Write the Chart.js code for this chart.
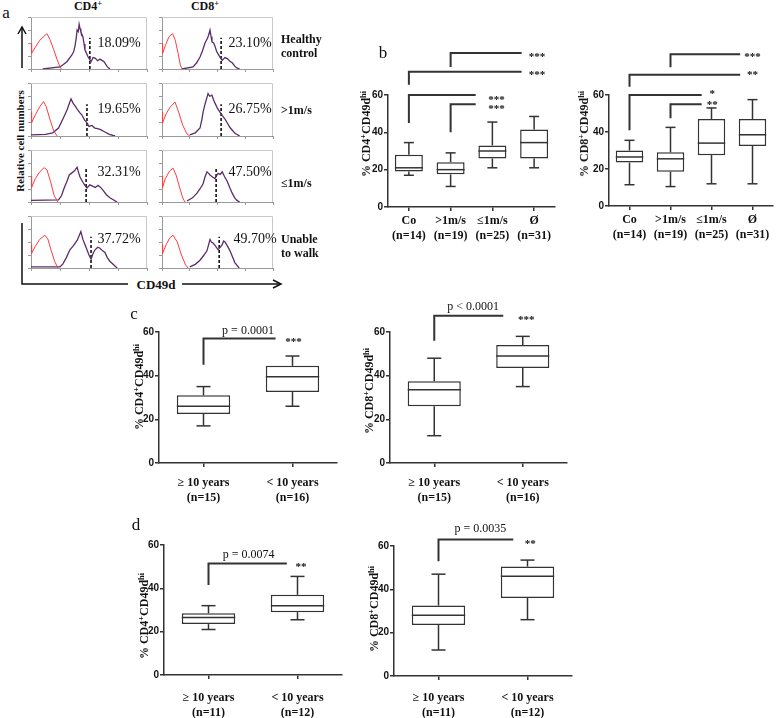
<!DOCTYPE html>
<html>
<head>
<meta charset="utf-8">
<script src="https://cdn.jsdelivr.net/npm/chart.js@4.4.1/dist/chart.umd.min.js"></script>
<style>
  body { margin: 0; width: 776px; height: 718px; position: relative; overflow: hidden; background: #fff; font-family: "Liberation Serif", "DejaVu Serif", serif; }
  canvas { position: absolute; }
  .t { position: absolute; white-space: nowrap; color: #111; transform: translate(-50%, -50%); line-height: 1; }
  .l { position: absolute; white-space: nowrap; color: #111; transform: translate(0, -50%); line-height: 1; }
  .r { transform: translate(-50%, -50%) rotate(-90deg); }
  sup { font-size: 0.7em; vertical-align: 0.45em; line-height: 0; }
</style>
</head>
<body>
<svg width="776" height="718" style="position:absolute;left:0;top:0">
  <g stroke="#111" stroke-width="1.5" fill="none">
    <line x1="22" y1="68" x2="22" y2="28"/>
    <polyline points="18,34 22,27 26,34"/>
    <polyline points="22,223 22,284 128,284"/>
    <line x1="182" y1="284" x2="280" y2="284"/>
    <polyline points="273,280 281,284 273,288"/>
  </g>
</svg>
<script>
// ---------- panel a : CD49d histograms (x in log decades, y relative counts) ----------
const rowNames = ["Healthy control", ">1m/s", "\u22641m/s", "Unable to walk"];

const cd4Red = [
  [[0,50],[0.02,30],[0.15,42],[0.3,55],[0.45,63],[0.55,68],[0.65,57],[0.78,38],[0.9,18],[1.0,4],[1.05,0]],
  [[0,45],[0.02,25],[0.15,40],[0.3,55],[0.43,65],[0.52,56],[0.65,32],[0.78,10],[0.9,0]],
  [[0,50],[0.02,28],[0.15,45],[0.3,58],[0.45,66],[0.55,62],[0.68,38],[0.8,12],[0.93,0]],
  [[0,45],[0.02,28],[0.15,42],[0.3,55],[0.48,63],[0.58,56],[0.7,33],[0.82,12],[0.93,0]]
];
const cd8Red = [
  [[0,50],[0.02,30],[0.12,45],[0.25,62],[0.38,68],[0.48,55],[0.58,30],[0.66,8],[0.72,0]],
  [[0,45],[0.02,25],[0.15,42],[0.3,55],[0.47,64],[0.6,45],[0.75,20],[0.9,4],[1.0,0]],
  [[0,50],[0.02,28],[0.12,45],[0.28,60],[0.4,65],[0.52,50],[0.65,25],[0.76,6],[0.83,0]],
  [[0,45],[0.02,28],[0.15,45],[0.28,58],[0.4,63],[0.55,50],[0.7,25],[0.85,6],[0.94,0]]
];
const cd4Purple = [
  [[0.4,0],[1.0,4],[1.24,14],[1.41,27],[1.47,33],[1.52,45],[1.56,60],[1.59,75],[1.63,72],[1.66,86],[1.69,78],[1.72,71],[1.79,62],[1.83,48],[1.86,37],[1.97,23],[2.03,18],[2.07,14],[2.14,22],[2.21,21],[2.3,16],[2.38,19],[2.52,14],[2.62,5],[2.72,0]],
  [[0,2],[0.5,3],[0.75,6],[0.95,15],[1.1,32],[1.25,50],[1.3,58],[1.38,70],[1.45,62],[1.52,57],[1.6,50],[1.68,44],[1.75,40],[1.85,30],[1.93,25],[2.0,18],[2.1,20],[2.2,15],[2.3,14],[2.4,12],[2.5,9],[2.7,3],[2.9,0]],
  [[0,3],[0.95,4],[1.05,12],[1.15,28],[1.24,40],[1.32,52],[1.41,56],[1.5,60],[1.59,67],[1.65,55],[1.69,48],[1.79,38],[1.86,32],[1.93,27],[2.03,33],[2.14,30],[2.22,28],[2.31,32],[2.4,28],[2.48,23],[2.6,14],[2.72,8],[2.97,0]],
  [[0,2],[1.0,2],[1.1,8],[1.22,20],[1.34,35],[1.45,42],[1.59,53],[1.66,62],[1.72,70],[1.79,55],[1.86,45],[1.93,35],[2.0,25],[2.07,17],[2.14,28],[2.21,35],[2.3,40],[2.38,38],[2.47,33],[2.55,30],[2.63,20],[2.72,13],[2.97,0]]
];
const cd8Purple = [
  [[0.72,0],[1.12,4],[1.25,12],[1.37,23],[1.46,35],[1.55,50],[1.63,58],[1.68,65],[1.73,75],[1.77,62],[1.8,52],[1.86,50],[1.91,44],[1.96,35],[2.02,29],[2.1,22],[2.17,17],[2.27,22],[2.35,20],[2.45,15],[2.53,12],[2.63,5],[2.7,2],[2.8,0]],
  [[1.0,2],[1.2,6],[1.37,15],[1.44,32],[1.48,45],[1.55,60],[1.62,73],[1.66,80],[1.72,75],[1.8,77],[1.86,68],[1.91,62],[2.0,52],[2.09,45],[2.18,38],[2.27,32],[2.36,24],[2.45,16],[2.55,10],[2.63,5],[2.8,0]],
  [[0.9,2],[1.1,8],[1.26,17],[1.38,26],[1.48,35],[1.55,48],[1.62,58],[1.68,55],[1.73,52],[1.82,48],[1.91,45],[1.96,50],[2.02,55],[2.1,53],[2.17,58],[2.26,48],[2.35,40],[2.44,28],[2.53,17],[2.62,8],[2.7,3],[2.8,0]],
  [[1.0,2],[1.2,7],[1.37,15],[1.5,24],[1.62,33],[1.68,45],[1.73,55],[1.78,50],[1.84,48],[1.93,42],[2.02,35],[2.1,40],[2.17,45],[2.22,52],[2.27,50],[2.36,42],[2.45,33],[2.55,20],[2.63,10],[2.78,0]]
];
const cd4Gate = [2.03, 1.93, 1.9, 2.07];
const cd8Gate = [2.13, 2.13, 1.95, 2.06];
const gateHeight = [60, 60, 65, 60];
const cd4Pct = ["18.09%", "19.65%", "32.31%", "37.72%"];
const cd8Pct = ["23.10%", "26.75%", "47.50%", "49.70%"];

// ---------- panel b : walking speed groups ----------
const bLabels = [["Co", "(n=14)"], [">1m/s", "(n=19)"], ["\u22641m/s", "(n=25)"], ["\u00d8", "(n=31)"]];
const bCD4Min = [17, 11, 21, 21];
const bCD4Q1  = [19, 17.5, 26, 26];
const bCD4Med = [21, 20, 30, 34.5];
const bCD4Q3  = [28, 24, 33, 41.5];
const bCD4Max = [34.5, 29, 45.5, 48.5];
const bCD8Min = [11.5, 10.5, 12, 12];
const bCD8Q1  = [23.5, 18.5, 27.5, 32.5];
const bCD8Med = [26.5, 25.5, 34, 38.5];
const bCD8Q3  = [30, 29, 47, 47];
const bCD8Max = [35.5, 42.5, 53, 57.5];

// ---------- panel c / d : disease duration ----------
const cLabels = [["\u2265 10 years", "(n=15)"], ["< 10 years", "(n=16)"]];
const cCD4Min = [17, 26],   cCD4Q1 = [22.5, 32.5], cCD4Med = [26, 39.5], cCD4Q3 = [31, 44.5], cCD4Max = [35, 49];
const cCD8Min = [12.5, 35], cCD8Q1 = [26, 43.5],   cCD8Med = [33.5, 49], cCD8Q3 = [37.5, 54], cCD8Max = [48, 58];
const dLabels = [["\u2265 10 years", "(n=11)"], ["< 10 years", "(n=12)"]];
const dCD4Min = [21, 25.5], dCD4Q1 = [23.5, 29],   dCD4Med = [26.5, 32], dCD4Q3 = [28.5, 37], dCD4Max = [32, 45.5];
const dCD8Min = [12, 26],   dCD8Q1 = [23.5, 36],   dCD8Med = [28, 46],   dCD8Q3 = [32.5, 50.5], dCD8Max = [47, 53.5];

const ink = "#333";
const serif = '"Liberation Serif", "DejaVu Serif", serif';
const sans = '"Liberation Sans", Arial, sans-serif';

function text(html, x, y, style, cls) {
  const d = document.createElement("div");
  d.className = cls || "t";
  d.innerHTML = html;
  d.style.left = x + "px";
  d.style.top = y + "px";
  Object.assign(d.style, style || {});
  document.body.appendChild(d);
  return d;
}

function makeCanvas(x, y, w, h) {
  const c = document.createElement("canvas");
  c.width = w; c.height = h;
  c.style.left = x + "px"; c.style.top = y + "px";
  c.style.width = w + "px"; c.style.height = h + "px";
  document.body.appendChild(c);
  return c;
}

// light frame around each histogram
const framePlugin = {
  id: "frame",
  beforeDatasetsDraw(chart) {
    const { ctx, chartArea: a } = chart;
    ctx.save();
    ctx.strokeStyle = "#c8c8c8";
    ctx.lineWidth = 1;
    ctx.beginPath();
    ctx.moveTo(a.left, a.top + 0.5);
    ctx.lineTo(a.right - 0.5, a.top + 0.5);
    ctx.lineTo(a.right - 0.5, a.bottom);
    ctx.stroke();
    ctx.restore();
  }
};

function histogram(left, top, w, h, red, purple, gate, gateTop) {
  const pad = 4;
  const canvas = makeCanvas(left - pad, top - 1, w + pad + 1, h + pad + 1);
  const pts = arr => arr.map(p => ({ x: p[0], y: p[1] }));
  new Chart(canvas, {
    type: "line",
    data: {
      datasets: [
        { data: pts(red), borderColor: "#ff3b3b", borderWidth: 1, pointRadius: 0, tension: 0 },
        { data: pts(purple), borderColor: "#5a2c6c", borderWidth: 1.3, pointRadius: 0, tension: 0 },
        { data: [{ x: gate, y: 0 }, { x: gate, y: gateTop }], borderColor: "#000", borderWidth: 1.5, borderDash: [3, 2], pointRadius: 0 }
      ]
    },
    options: {
      responsive: false, animation: false,
      layout: { padding: { top: 1, right: 1, left: 0, bottom: 0 }, autoPadding: false },
      plugins: { legend: { display: false }, tooltip: { enabled: false } },
      scales: {
        x: {
          type: "linear", min: 0, max: 4,
          ticks: { display: false, stepSize: 1 },
          grid: { drawOnChartArea: false, tickLength: 3, color: "#999" },
          border: { color: "#999" },
          afterFit: s => { s.height = pad; }
        },
        y: {
          min: 0, max: 100,
          ticks: { display: false, stepSize: 25 },
          grid: { drawOnChartArea: false, tickLength: 3, color: "#999" },
          border: { color: "#999" },
          afterFit: s => { s.width = pad; }
        }
      }
    },
    plugins: [framePlugin]
  });
}

const rowTops = [17, 83, 150, 216];
const rowBottoms = [69, 136, 202, 268];
rowTops.forEach((t, i) => {
  const h = rowBottoms[i] - t;
  histogram(31, t, 116, h, cd4Red[i], cd4Purple[i], cd4Gate[i], gateHeight[i]);
  histogram(162, t, 111, h, cd8Red[i], cd8Purple[i], cd8Gate[i], gateHeight[i]);
});

// ---------- box plot helper ----------
const boxPlugin = {
  id: "boxExtras",
  afterDatasetsDraw(chart, args, o) {
    const { ctx, scales: { x, y } } = chart;
    const meta = chart.getDatasetMeta(0);
    ctx.save();
    ctx.strokeStyle = ink;
    ctx.lineWidth = 1.5;
    o.min.forEach((lo, i) => {
      const cx = x.getPixelForValue(i);
      const half = meta.data[i].width / 2;
      const seg = (x0, y0, x1, y1) => { ctx.beginPath(); ctx.moveTo(x0, y0); ctx.lineTo(x1, y1); ctx.stroke(); };
      seg(cx - half, y.getPixelForValue(o.med[i]), cx + half, y.getPixelForValue(o.med[i]));
      seg(cx, y.getPixelForValue(o.q3[i]), cx, y.getPixelForValue(o.max[i]));
      seg(cx, y.getPixelForValue(o.q1[i]), cx, y.getPixelForValue(lo));
      seg(cx - o.cap, y.getPixelForValue(o.max[i]), cx + o.cap, y.getPixelForValue(o.max[i]));
      seg(cx - o.cap, y.getPixelForValue(lo), cx + o.cap, y.getPixelForValue(lo));
    });
    // significance brackets
    ctx.lineWidth = 2;
    o.brackets.forEach(b => {
      ctx.beginPath();
      ctx.moveTo(x.getPixelForValue(b.x0), y.getPixelForValue(b.yLow));
      ctx.lineTo(x.getPixelForValue(b.x0), y.getPixelForValue(b.yTop));
      ctx.lineTo(x.getPixelForValue(b.x1), y.getPixelForValue(b.yTop));
      ctx.stroke();
    });
    ctx.fillStyle = "#111";
    ctx.textAlign = "center";
    o.notes.forEach(n => {
      const star = /^\*+$/.test(n.text);
      ctx.font = star ? "bold 11px " + serif : "12px " + serif;
      ctx.textBaseline = star ? "alphabetic" : "middle";
      ctx.fillText(n.text, x.getPixelForValue(n.x), y.getPixelForValue(n.y) + (star ? 5 : 0));
    });
    ctx.restore();
  }
};

function boxChart(g, labels, mins, q1s, meds, q3s, maxs, brackets, notes) {
  const canvas = makeCanvas(g.x, g.y, g.w, g.h);
  new Chart(canvas, {
    type: "bar",
    data: {
      labels: labels,
      datasets: [{
        data: q1s.map((q, i) => [q, q3s[i]]),
        backgroundColor: "#fff",
        borderColor: ink,
        borderWidth: 1.5,
        borderSkipped: false,
        barPercentage: 1,
        categoryPercentage: g.boxFrac
      }]
    },
    options: {
      responsive: false, animation: false,
      layout: {
        autoPadding: false,
        padding: { left: g.l - g.x - g.yW, right: g.x + g.w - g.r, top: g.t - g.y, bottom: 0 }
      },
      plugins: {
        legend: { display: false }, tooltip: { enabled: false },
        boxExtras: { min: mins, q1: q1s, med: meds, q3: q3s, max: maxs, cap: g.cap, brackets: brackets, notes: notes }
      },
      scales: {
        x: {
          ticks: { color: "#111", font: { family: serif, size: 12, weight: "bold", lineHeight: g.lh || 1.3 }, padding: g.labPad, maxRotation: 0 },
          grid: { offset: false, drawOnChartArea: false, tickLength: 4, color: ink, lineWidth: 1.5 },
          border: { color: ink, width: 1.5 },
          afterFit: s => { s.height = g.y + g.h - g.b; }
        },
        y: {
          min: 0, max: 60,
          ticks: { stepSize: 20, color: "#111", font: { family: sans, size: 10, weight: "bold" }, padding: 1 },
          grid: { drawOnChartArea: false, tickLength: 4, color: ink, lineWidth: 1.5 },
          border: { color: ink, width: 1.5 },
          afterFit: s => { s.width = g.yW; }
        }
      }
    },
    plugins: [boxPlugin]
  });
}

boxChart({ x: 355, y: 40, w: 205, h: 210, l: 388, r: 555, t: 95, b: 207, yW: 26, boxFrac: 0.67, cap: 5, labPad: 2 },
  bLabels, bCD4Min, bCD4Q1, bCD4Med, bCD4Q3, bCD4Max,
  [{ x0: 0, x1: 1.6, yLow: 45, yTop: 60 }, { x0: 1, x1: 1.6, yLow: 40, yTop: 55 },
   { x0: 0, x1: 2.7, yLow: 65.5, yTop: 72.5 }, { x0: 1, x1: 2.7, yLow: 75, yTop: 82.5 }],
  [{ text: "***", x: 2.1, y: 58.4 }, { text: "***", x: 2.1, y: 53.6 },
   { text: "***", x: 3.07, y: 71.8 }, { text: "***", x: 3.07, y: 81.4 }]);

boxChart({ x: 588, y: 40, w: 188, h: 210, l: 609, r: 773, t: 95, b: 206, yW: 18, boxFrac: 0.67, cap: 5, labPad: 2 },
  bLabels, bCD8Min, bCD8Q1, bCD8Med, bCD8Q3, bCD8Max,
  [{ x0: 0, x1: 1.76, yLow: 41, yTop: 60 }, { x0: 1, x1: 1.76, yLow: 47.5, yTop: 55 },
   { x0: 0, x1: 2.7, yLow: 64.5, yTop: 71 }, { x0: 1, x1: 2.7, yLow: 75, yTop: 82 }],
  [{ text: "*", x: 2.02, y: 61.4 }, { text: "**", x: 2.02, y: 55.7 },
   { text: "**", x: 3.0, y: 71.9 }, { text: "***", x: 3.0, y: 81.6 }]);

boxChart({ x: 140, y: 295, w: 205, h: 215, l: 159, r: 337, t: 332, b: 463, yW: 18, boxFrac: 0.6, cap: 7, labPad: 8 },
  cLabels, cCD4Min, cCD4Q1, cCD4Med, cCD4Q3, cCD4Max,
  [{ x0: 0, x1: 0.81, yLow: 45, yTop: 57 }],
  [{ text: "p = 0.0001", x: 0.5, y: 60.5 }, { text: "***", x: 1.01, y: 56.3 }]);

boxChart({ x: 370, y: 295, w: 205, h: 215, l: 390, r: 567, t: 332, b: 463, yW: 18, boxFrac: 0.6, cap: 7, labPad: 8 },
  cLabels, cCD8Min, cCD8Q1, cCD8Med, cCD8Q3, cCD8Max,
  [{ x0: 0, x1: 0.78, yLow: 56, yTop: 67.5 }],
  [{ text: "p < 0.0001", x: 0.44, y: 71.5 }, { text: "***", x: 1.04, y: 66.4 }]);

boxChart({ x: 145, y: 515, w: 205, h: 203, l: 164, r: 342, t: 545, b: 675, yW: 18, boxFrac: 0.6, cap: 7, labPad: 11, lh: 1.25 },
  dLabels, dCD4Min, dCD4Q1, dCD4Med, dCD4Q3, dCD4Max,
  [{ x0: 0, x1: 0.88, yLow: 41.5, yTop: 51.5 }],
  [{ text: "p = 0.0074", x: 0.45, y: 55.4 }, { text: "**", x: 1.04, y: 50.8 }]);

boxChart({ x: 375, y: 515, w: 205, h: 203, l: 394, r: 572, t: 546, b: 676, yW: 18, boxFrac: 0.6, cap: 7, labPad: 10, lh: 1.25 },
  dLabels, dCD8Min, dCD8Q1, dCD8Med, dCD8Q3, dCD8Max,
  [{ x0: 0, x1: 0.84, yLow: 53, yTop: 63 }],
  [{ text: "p = 0.0035", x: 0.47, y: 67.8 }, { text: "**", x: 1.03, y: 61.8 }]);

// ---------- text for panel a ----------
text("a", 6, 12, { fontSize: "17px" });
text("CD4<sup>+</sup>", 88, 6, { fontSize: "12px", fontWeight: "bold" });
text("CD8<sup>+</sup>", 205, 6, { fontSize: "12px", fontWeight: "bold" });
const pctY = [43, 109, 172, 239];
cd4Pct.forEach((p, i) => text(p, 119, pctY[i], { fontSize: "14px" }));
cd8Pct.forEach((p, i) => text(p, i === 3 ? 255 : 250, pctY[i], { fontSize: "14px" }));
text("Healthy<br>control", 281, 46, { fontSize: "12px", fontWeight: "bold", lineHeight: "14px" }, "l");
text(rowNames[1], 281, 110, { fontSize: "12px", fontWeight: "bold" }, "l");
text(rowNames[2], 281, 183, { fontSize: "12px", fontWeight: "bold" }, "l");
text("Unable<br>to walk", 281, 246, { fontSize: "12px", fontWeight: "bold", lineHeight: "14px" }, "l");
text("Relative cell numbers", 20, 141, { fontSize: "11px", fontWeight: "bold" }, "t r");
text("CD49d", 156, 284, { fontSize: "13px", fontWeight: "bold" });

// ---------- panel letters and y titles ----------
text("b", 383, 52, { fontSize: "17px" });
text("c", 134, 313, { fontSize: "17px" });
text("d", 136, 524, { fontSize: "17px" });
const yTitle4 = "% CD4<sup>+</sup>CD49d<sup>hi</sup>";
const yTitle8 = "% CD8<sup>+</sup>CD49d<sup>hi</sup>";
text(yTitle4, 366, 134, { fontSize: "12px", fontWeight: "bold" }, "t r");
text(yTitle8, 584, 134, { fontSize: "12px", fontWeight: "bold" }, "t r");
text(yTitle4, 139, 387, { fontSize: "12px", fontWeight: "bold" }, "t r");
text(yTitle8, 369, 391, { fontSize: "12px", fontWeight: "bold" }, "t r");
text(yTitle4, 144, 616, { fontSize: "12px", fontWeight: "bold" }, "t r");
text(yTitle8, 374, 609, { fontSize: "12px", fontWeight: "bold" }, "t r");
</script>
</body>
</html>
